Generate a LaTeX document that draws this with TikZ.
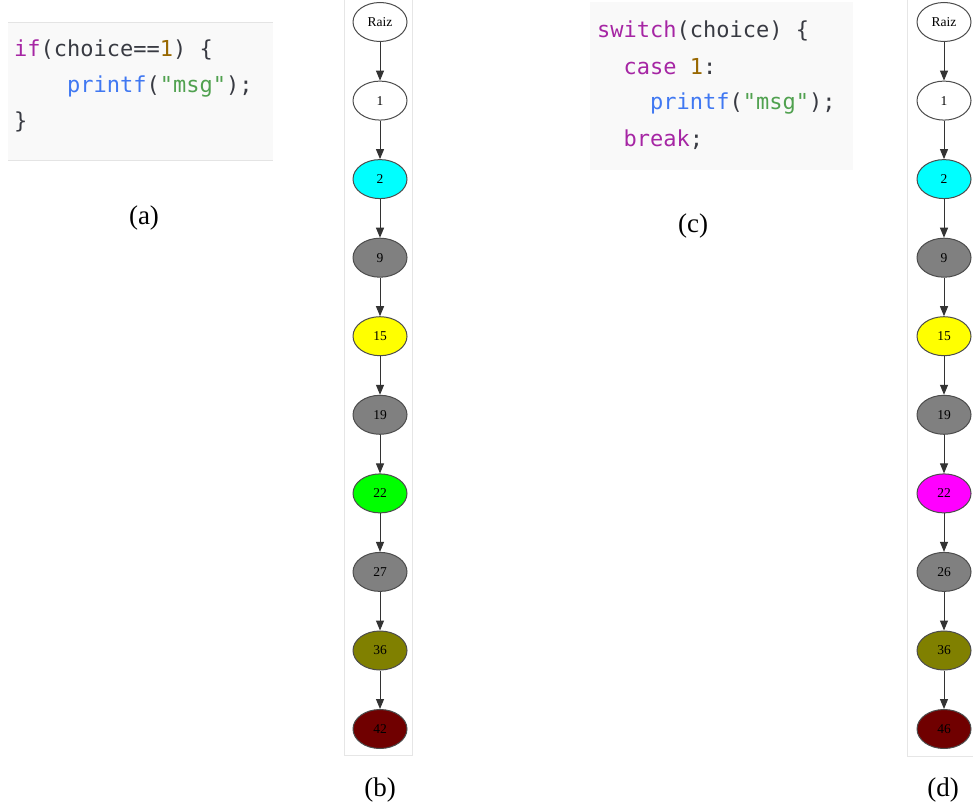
\documentclass[tikz,border=0pt]{standalone}
\usepackage{fontspec}
\setmainfont{Liberation Serif}
\newfontfamily\codefont{DejaVu Sans Mono}
\usetikzlibrary{shapes.geometric,arrows.meta}

\definecolor{kw}{HTML}{A626A4}
\definecolor{num}{HTML}{986801}
\definecolor{fn}{HTML}{4078F2}
\definecolor{str}{HTML}{50A14F}
\definecolor{plain}{HTML}{383A42}
\definecolor{codebg}{HTML}{F9F9F9}
\definecolor{codeline}{HTML}{E4E4E4}
\definecolor{panelline}{HTML}{E6E6E6}
\definecolor{gvwhite}{HTML}{FFFFFF}
\definecolor{gvcyan}{HTML}{00FFFF}
\definecolor{gvgray}{HTML}{808080}
\definecolor{gvyellow}{HTML}{FFFF00}
\definecolor{gvgreen}{HTML}{00FF00}
\definecolor{gvmagenta}{HTML}{FF00FF}
\definecolor{gvolive}{HTML}{808000}
\definecolor{gvmaroon}{HTML}{700000}

\tikzset{
  codetext/.style={anchor=base west, inner sep=0pt, text=plain,
    font=\codefont\fontsize{22}{26}\selectfont},
  caption/.style={font=\fontsize{27}{30}\selectfont, inner sep=0pt},
  gvnode/.style={ellipse, draw=black!70, line width=1pt, minimum width=54pt,
    minimum height=39pt, inner sep=0pt, font=\fontsize{13.5}{15}\selectfont},
  edge/.style={draw=black!80, line width=1pt,
    -{Triangle[length=10pt,width=8pt]}},
  panel/.style={draw=panelline, fill=white, line width=0.8pt},
  codebox/.style={fill=codebg}
}

\begin{document}
\begin{tikzpicture}[x=1pt,y=-1pt]
\useasboundingbox (0,0) rectangle (973,810);
\fill[white] (0,0) rectangle (973,810);

% ---- code panel (a): if statement
\fill[codebox] (8,22) rectangle (273,160);
\draw[codeline, line width=0.8pt] (8,22) -- (273,22);
\draw[codeline, line width=0.8pt] (8,160) -- (273,160);
\node[codetext] (a1) at (14,57) {\textcolor{kw}{if}(choice==\textcolor{num}{1}) \{};
\node[codetext] (a2) at (66.96,93) {\textcolor{fn}{printf}(\textcolor{str}{"msg"});};
\node[codetext] (a3) at (14,129) {\}};
\node[caption] (capa) at (144,218) {(a)};

% ---- code panel (c): switch statement
\fill[codebox] (590,2) rectangle (853,170);
\node[codetext] (c1) at (597,38) {\textcolor{kw}{switch}(choice) \{};
\node[codetext] (c2) at (623.5,75) {\textcolor{kw}{case} \textcolor{num}{1}:};
\node[codetext] (c3) at (650,110) {\textcolor{fn}{printf}(\textcolor{str}{"msg"});};
\node[codetext] (c4) at (623.5,147) {\textcolor{kw}{break};};
\node[caption] (capc) at (693,226) {(c)};

% ---- graph panel (b)
\draw[panel] (344,-2) rectangle (412,755);
\node[gvnode, fill=gvwhite]   (b0) at (380,22)    {Raiz};
\node[gvnode, fill=gvwhite]   (b1) at (380,100.6) {1};
\node[gvnode, fill=gvcyan]    (b2) at (380,179.1) {2};
\node[gvnode, fill=gvgray]    (b3) at (380,257.7) {9};
\node[gvnode, fill=gvyellow]  (b4) at (380,336.2) {15};
\node[gvnode, fill=gvgray]    (b5) at (380,414.8) {19};
\node[gvnode, fill=gvgreen]   (b6) at (380,493.4) {22};
\node[gvnode, fill=gvgray]    (b7) at (380,571.9) {27};
\node[gvnode, fill=gvolive]   (b8) at (380,650.5) {36};
\node[gvnode, fill=gvmaroon]  (b9) at (380,729)   {42};
\foreach \i [evaluate=\i as \j using int(\i+1)] in {0,...,8}
  \draw[edge] (b\i) -- (b\j);
\node[caption] (capb) at (380,790) {(b)};

% ---- graph panel (d)
\draw[panel] (907,-2) rectangle (975,756);
\node[gvnode, fill=gvwhite]   (d0) at (944,22)    {Raiz};
\node[gvnode, fill=gvwhite]   (d1) at (944,100.6) {1};
\node[gvnode, fill=gvcyan]    (d2) at (944,179.1) {2};
\node[gvnode, fill=gvgray]    (d3) at (944,257.7) {9};
\node[gvnode, fill=gvyellow]  (d4) at (944,336.2) {15};
\node[gvnode, fill=gvgray]    (d5) at (944,414.8) {19};
\node[gvnode, fill=gvmagenta] (d6) at (944,493.4) {22};
\node[gvnode, fill=gvgray]    (d7) at (944,571.9) {26};
\node[gvnode, fill=gvolive]   (d8) at (944,650.5) {36};
\node[gvnode, fill=gvmaroon]  (d9) at (944,729)   {46};
\foreach \i [evaluate=\i as \j using int(\i+1)] in {0,...,8}
  \draw[edge] (d\i) -- (d\j);
\node[caption] (capd) at (943,790) {(d)};
\end{tikzpicture}
\end{document}
